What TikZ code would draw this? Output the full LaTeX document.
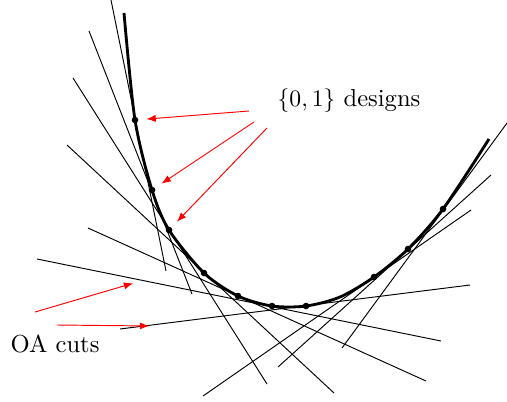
\documentclass[tikz,border=0pt]{standalone}
\usepackage{amsmath,amssymb}
\usepackage{tikz}
\usetikzlibrary{positioning,arrows.meta}
\tikzset{
  fcurve/.style={very thick,black,line join=round},
  cut/.style={thin,black},
  dot/.style={circle,fill=black,inner sep=0pt,minimum size=2.8pt},
  hint/.style={thin,red,-{Latex[length=4pt,width=3pt]},shorten >=0.3pt},
  lbl/.style={font=\fontsize{10.4}{12}\selectfont,inner sep=0pt}
}
\begin{document}
\begin{tikzpicture}[x=0.423pt,y=-0.423pt]
    \useasboundingbox (0,0) rectangle (507,401);
    % cuts
    \foreach \ax/\ay/\bx/\by [count=\i] in {111/0/166/271, 89/31/192/294, 73/78/267/384, 67/145/334/393,
        88/228/426/381, 37/259/441/341, 120/329/470/285, 203/396/471/210, 278/367/491/175, 342/348/510/119}{
      \coordinate (u\i) at (\ax,\ay); \coordinate (v\i) at (\bx,\by);
      \draw[cut] (u\i)--(v\i);}
    % function
    \draw[fcurve] plot[smooth] coordinates {(124,13) (135,120) (152,190) (169,230) (204,273) (238,296)
        (272,306) (306,306) (340,297) (374,277) (408,249) (443,209) (489,139)};
    \foreach \x/\y [count=\i] in {135/120,152/190,169/230,204/273,238/296,272/306,306/306,374/277,408/249,443/209}{
      \node[dot] (p\i) at (\x,\y) {};}
    % labels
    \node[lbl,anchor=base] (designs) at (349,106) {$\{0,1\}$ designs};
    \node[lbl,anchor=base] (oacuts) at (55,352) {OA cuts};
    \coordinate (d1) at (249,111); \coordinate (d2) at (254,122); \coordinate (d3) at (267,128);
    \coordinate (o1) at (35,312); \coordinate (o2) at (57,325);
    \coordinate (t1) at (134,283); \coordinate (t2) at (150,326);
    \draw[hint,shorten >=3.2pt] (d1)--(p1);
    \draw[hint,shorten >=3.2pt] (d2)--(p2);
    \draw[hint,shorten >=3.2pt] (d3)--(p3);
    \draw[hint] (o1)--(t1); \draw[hint] (o2)--(t2);
  \end{tikzpicture}
\end{document}
